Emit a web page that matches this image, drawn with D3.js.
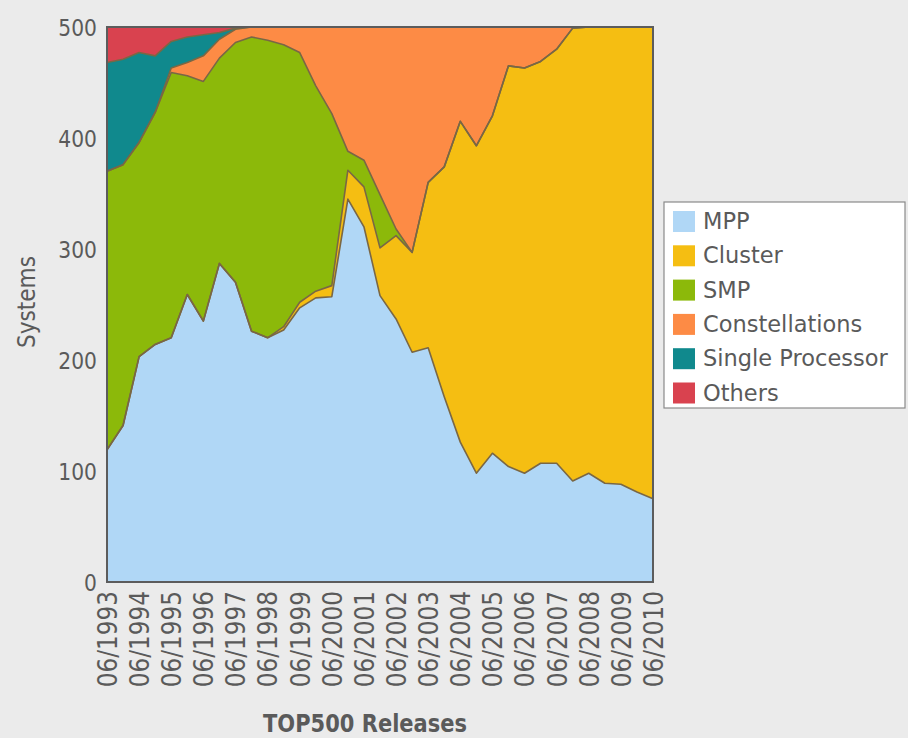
<!DOCTYPE html>
<html>
<head>
<meta charset="utf-8">
<script src="https://cdn.jsdelivr.net/npm/d3@7"></script>
<style>
  html, body { margin: 0; padding: 0; background: #ebebeb; }
  svg { display: block; }
</style>
</head>
<body>
<svg id="chart" width="908" height="738"></svg>
<script>
// ---- data (TOP500 architecture share, systems per release) ----
const releases = [
  "06/1993","11/1993","06/1994","11/1994","06/1995","11/1995","06/1996","11/1996",
  "06/1997","11/1997","06/1998","11/1998","06/1999","11/1999","06/2000","11/2000",
  "06/2001","11/2001","06/2002","11/2002","06/2003","11/2003","06/2004","11/2004",
  "06/2005","11/2005","06/2006","11/2006","06/2007","11/2007","06/2008","11/2008",
  "06/2009","11/2009","06/2010"
];
const seriesNames = ["MPP", "Cluster", "SMP", "Constellations", "Single Processor", "Others"];
const mpp = [119,141,203,214,220,259,235,287,270,226,220,227,247,256,257,345,320,258,237,207,211,167,126,98,116,104,98,107,107,91,98,89,88,81,75];
const cluster = [0,0,0,0,0,0,0,0,0,0,0,3,5,6,10,26,36,43,75,90,149,207,289,295,304,361,365,362,373,408,402,411,412,419,425];
const smp = [251,235,193,209,239,197,216,185,216,265,268,254,225,185,155,17,24,48,6,0,0,0,0,0,0,0,0,0,0,0,0,0,0,0,0];
const constellations = [0,0,0,0,4,12,23,17,12,9,12,16,23,53,78,112,120,151,182,203,140,126,85,107,80,35,37,31,20,1,0,0,0,0,0];
const singleProcessor = [98,95,81,51,24,23,19,6,1,0,0,0,0,0,0,0,0,0,0,0,0,0,0,0,0,0,0,0,0,0,0,0,0,0,0];
const others = [32,29,23,26,13,9,7,5,1,0,0,0,0,0,0,0,0,0,0,0,0,0,0,0,0,0,0,0,0,0,0,0,0,0,0];
const yTicks = [0,100,200,300,400,500];
const colors = ["#b0d7f6", "#f5be12", "#8cb90a", "#fd8b45", "#10898d", "#d9424f"];

// ---- build table ----
const table = releases.map((r, i) => ({
  release: r,
  "MPP": mpp[i],
  "Cluster": cluster[i],
  "SMP": smp[i],
  "Constellations": constellations[i],
  "Single Processor": singleProcessor[i],
  "Others": others[i]
}));

const plot = { left: 107, right: 653, top: 27, bottom: 582 };
const svg = d3.select("#chart");
const font = "'DejaVu Sans', Verdana, sans-serif";
const textColor = "#5a5a5a";

const x = d3.scalePoint().domain(releases).range([plot.left, plot.right]);
const y = d3.scaleLinear().domain([0, 500]).range([plot.bottom, plot.top]);

const stacked = d3.stack().keys(seriesNames)(table);

const area = d3.area()
  .x(d => x(d.data.release))
  .y0(d => y(d[0]))
  .y1(d => y(d[1]));
const topLine = d3.line()
  .x(d => x(d.data.release))
  .y(d => y(d[1]));

const g = svg.append("g");
g.selectAll("path.area")
  .data(stacked)
  .join("path")
  .attr("class", "area")
  .attr("d", area)
  .attr("fill", (d, i) => colors[i]);

g.selectAll("path.edge")
  .data(stacked.slice(0, 5))
  .join("path")
  .attr("class", "edge")
  .attr("d", topLine)
  .attr("fill", "none")
  .attr("stroke", "#7a6744")
  .attr("stroke-width", 1.6)
  .attr("stroke-linejoin", "round");

// plot frame
svg.append("rect")
  .attr("x", plot.left).attr("y", plot.top)
  .attr("width", plot.right - plot.left).attr("height", plot.bottom - plot.top)
  .attr("fill", "none").attr("stroke", "#5c5c5c").attr("stroke-width", 2);

// y axis
const yAxis = svg.append("g")
  .attr("transform", `translate(${plot.left},0)`)
  .call(d3.axisLeft(y).tickValues(yTicks).tickSize(0).tickPadding(10));
yAxis.select(".domain").remove();
yAxis.selectAll("text")
  .attr("font-family", font).attr("font-size", 23).attr("fill", textColor)
  .attr("x", null).attr("dy", "0.36em")
  .attr("transform", "translate(-10,0) scale(0.88,1)");

// x axis
const juneTicks = releases.filter(r => r.startsWith("06/"));
const xAxis = svg.append("g")
  .attr("transform", `translate(0,${plot.bottom})`)
  .call(d3.axisBottom(x).tickValues(juneTicks).tickSize(0));
xAxis.select(".domain").remove();
xAxis.selectAll("text")
  .attr("font-family", font).attr("font-size", 26).attr("fill", textColor)
  .attr("text-anchor", "end").attr("y", 0).attr("x", 0).attr("dy", "0.36em")
  .attr("transform", "translate(0,9) rotate(-90) scale(0.89,1)");

// axis titles
svg.append("text")
  .attr("transform", "translate(35,302) rotate(-90) scale(0.9,1)")
  .attr("text-anchor", "middle")
  .attr("font-family", font).attr("font-size", 24).attr("fill", textColor)
  .text("Systems");

svg.append("text")
  .attr("transform", "translate(365,732) scale(0.84,1)")
  .attr("text-anchor", "middle")
  .attr("font-family", font).attr("font-size", 25).attr("font-weight", "bold").attr("fill", textColor)
  .text("TOP500 Releases");

// legend
const legend = svg.append("g").attr("transform", "translate(664,202)");
legend.append("rect")
  .attr("width", 241).attr("height", 206)
  .attr("fill", "#ffffff").attr("stroke", "#8a8a8a").attr("stroke-width", 1.2);
const items = legend.selectAll("g.item")
  .data(seriesNames)
  .join("g")
  .attr("class", "item")
  .attr("transform", (d, i) => `translate(0,${9 + i * 34.3})`);
items.append("rect")
  .attr("x", 9).attr("y", 0).attr("width", 22).attr("height", 21)
  .attr("fill", (d, i) => colors[i]);
items.append("text")
  .attr("x", 39).attr("y", 18)
  .attr("font-family", font).attr("font-size", 22.5).attr("fill", textColor)
  .text(d => d);
</script>
</body>
</html>
